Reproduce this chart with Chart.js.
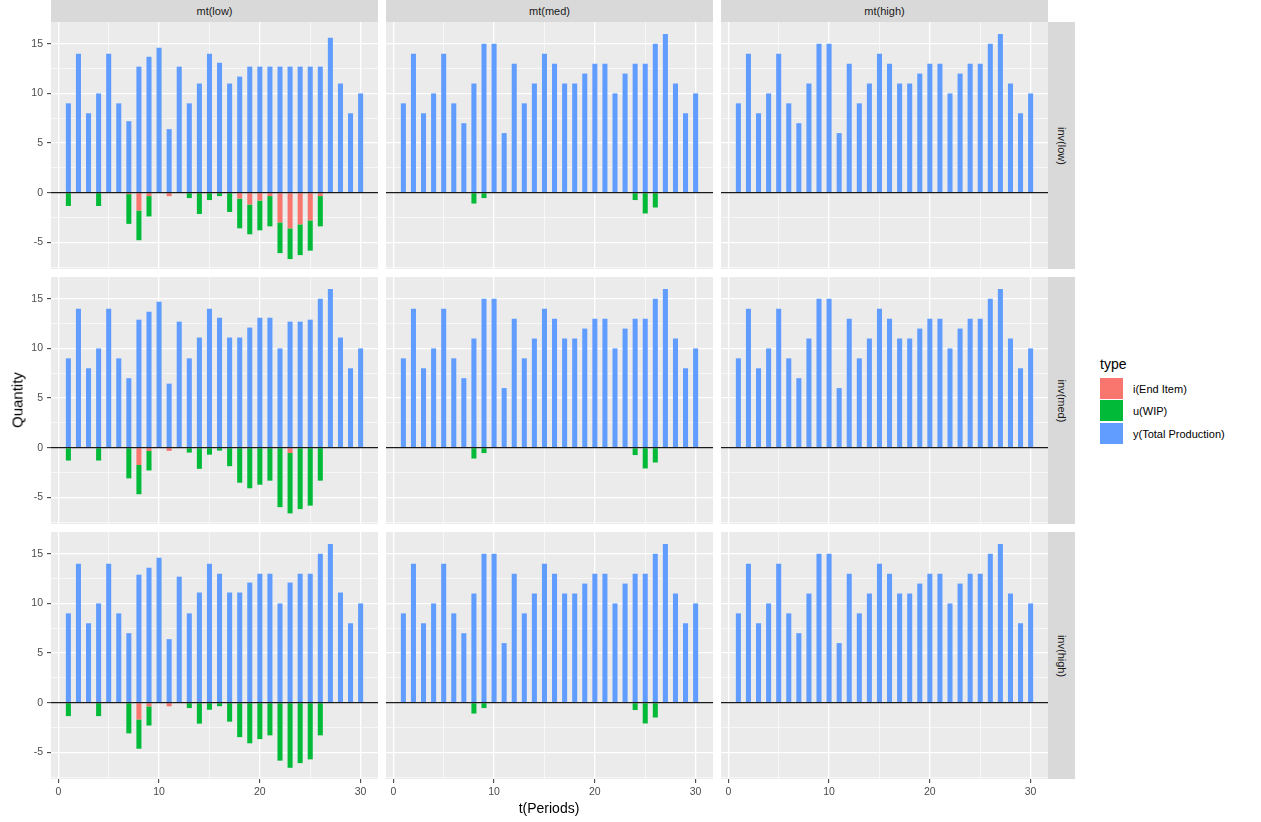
<!DOCTYPE html>
<html>
<head>
<meta charset="utf-8">
<script src="https://cdn.jsdelivr.net/npm/chart.js@4.4.1/dist/chart.umd.min.js"></script>
<style>
body { margin: 0; background: #fff; font-family: 'Liberation Sans', Arial, sans-serif; }
#wrap { position: relative; width: 1261px; height: 822px; overflow: hidden; }
canvas { position: absolute; }
.strip-top { position: absolute; top: 0; height: 22px; line-height: 22px; background: #D9D9D9; color: #1A1A1A; font-size: 11px; text-align: center; }
.strip-right { position: absolute; left: 1048px; width: 27px; background: #D9D9D9; color: #1A1A1A; font-size: 11px; }
.strip-right span { position: absolute; left: 50%; top: 50%; transform: translate(-50%, -50%) rotate(90deg); white-space: nowrap; }
.ytitle { position: absolute; left: 17px; top: 400px; transform: translate(-50%, -50%) rotate(-90deg); font-size: 15px; color: #000; white-space: nowrap; }
.xtitle { position: absolute; left: 549px; top: 808px; transform: translate(-50%, -50%); font-size: 14px; color: #000; white-space: nowrap; }
.legend-title { position: absolute; left: 1100px; top: 356px; font-size: 14px; color: #000; }
.key { position: absolute; left: 1100px; width: 23px; height: 21px; }
.key-label { position: absolute; left: 1133px; font-size: 11px; color: #000; white-space: nowrap; transform: translateY(-50%); }
</style>
</head>
<body>
<div id="wrap"></div>
<script>
// periods on the x axis
const periods = [1, 2, 3, 4, 5, 6, 7, 8, 9, 10, 11, 12, 13, 14, 15, 16, 17, 18, 19, 20, 21, 22, 23, 24, 25, 26, 27, 28, 29, 30];

// inv(low) / mt(low)
const prodLowLow = [9, 14, 8, 10, 14, 9, 7.2, 12.7, 13.7, 14.6, 6.4, 12.7, 9, 11, 14, 13.1, 11, 11.7, 12.7, 12.7, 12.7, 12.7, 12.7, 12.7, 12.7, 12.7, 15.6, 11, 8, 10];
const endLowLow = [0, 0, 0, 0, 0, 0, -0.15, -1.8, -0.35, 0, -0.35, 0, 0, 0, 0, 0, 0, -0.6, -1.2, -0.8, -0.35, -3.0, -3.6, -3.2, -2.8, -0.35, 0, 0, 0, 0];
const wipLowLow = [-1.35, 0, 0, -1.35, 0, 0, -3.0, -3.0, -2.05, 0, 0, 0, -0.55, -2.15, -0.75, -0.35, -1.95, -3.0, -3.0, -3.0, -3.05, -3.1, -3.1, -3.1, -3.05, -3.05, 0, 0, 0, 0];

// inv(med) / mt(low)
const prodMedLow = [9, 14, 8, 10, 14, 9, 7, 12.9, 13.7, 14.7, 6.45, 12.7, 9, 11.1, 14, 13.1, 11.1, 11.1, 12.1, 13.1, 13.1, 10, 12.7, 12.7, 12.9, 15, 16, 11.1, 8, 10];
const endMedLow = [0, 0, 0, 0, 0, 0, 0, -1.75, -0.33, 0, -0.33, 0, 0, 0, 0, 0, 0, 0, 0, 0, 0, 0, -0.54, -0.07, 0, 0, 0, 0, 0, 0];
const wipMedLow = [-1.3, 0, 0, -1.3, 0, 0, -3.1, -2.95, -1.97, 0, 0, 0, -0.5, -2.14, -0.71, -0.3, -1.87, -3.54, -4.1, -3.74, -3.33, -6.0, -6.09, -6.13, -5.85, -3.33, 0, 0, 0, 0];

// inv(high) / mt(low)
const prodHighLow = [9, 14, 8, 10, 14, 9, 7, 12.9, 13.6, 14.6, 6.4, 12.7, 9, 11.1, 14, 13, 11.1, 11.1, 12.1, 13, 13, 10, 12.1, 13, 13, 15, 16, 11.1, 8, 10];
const endHighLow = [0, 0, 0, 0, 0, 0, 0, -1.7, -0.38, 0, -0.37, 0, 0, 0, 0, 0, 0, 0, 0, 0, 0, 0, 0, 0, 0, 0, 0, 0, 0, 0];
const wipHighLow = [-1.36, 0, 0, -1.36, 0, 0, -3.1, -2.95, -1.93, 0, 0, 0, -0.55, -2.12, -0.72, -0.36, -1.92, -3.48, -4.1, -3.68, -3.3, -5.85, -6.57, -6.1, -5.72, -3.3, 0, 0, 0, 0];

// mt(med) and mt(high), same for every inv level
const prodBase = [9, 14, 8, 10, 14, 9, 7, 11, 15, 15, 6, 13, 9, 11, 14, 13, 11, 11, 12, 13, 13, 10, 12, 13, 13, 15, 16, 11, 8, 10];
const wipMedMt = [0, 0, 0, 0, 0, 0, 0, -1.1, -0.55, 0, 0, 0, 0, 0, 0, 0, 0, 0, 0, 0, 0, 0, 0, -0.75, -2.1, -1.5, 0, 0, 0, 0];

const colLabels = ['mt(low)', 'mt(med)', 'mt(high)'];
const rowLabels = ['inv(low)', 'inv(med)', 'inv(high)'];
const seriesNames = ['i(End Item)', 'u(WIP)', 'y(Total Production)'];
const seriesColors = ['#F8766D', '#00BA38', '#619CFF'];

const xTicks = [0, 10, 20, 30];
const xMinor = [5, 15, 25];
const yTicks = [-5, 0, 5, 10, 15];
const yMinor = [-7.5, -2.5, 2.5, 7.5, 12.5];

const panels = [
    { row: 0, col: 0, series: [endLowLow, wipLowLow, prodLowLow] },
    { row: 0, col: 1, series: [[], wipMedMt, prodBase] },
    { row: 0, col: 2, series: [[], [], prodBase] },
    { row: 1, col: 0, series: [endMedLow, wipMedLow, prodMedLow] },
    { row: 1, col: 1, series: [[], wipMedMt, prodBase] },
    { row: 1, col: 2, series: [[], [], prodBase] },
    { row: 2, col: 0, series: [endHighLow, wipHighLow, prodHighLow] },
    { row: 2, col: 1, series: [[], wipMedMt, prodBase] },
    { row: 2, col: 2, series: [[], [], prodBase] }
];

// layout
const colLeft = [51, 386, 721];
const rowTop = [22, 277, 532];
const panelW = 327;
const panelH = 247;
const yAxisW = 51;
const xAxisH = 22;

const wrap = document.getElementById('wrap');

// panel background + zero line
const panelPlugin = {
    id: 'panelBg',
    beforeDraw(chart) {
        const a = chart.chartArea;
        const ctx = chart.ctx;
        ctx.save();
        ctx.fillStyle = '#EBEBEB';
        ctx.fillRect(a.left, a.top, a.right - a.left, a.bottom - a.top);
        ctx.restore();
    },
    afterDatasetsDraw(chart) {
        const a = chart.chartArea;
        const y0 = chart.scales.y.getPixelForValue(0);
        const ctx = chart.ctx;
        ctx.save();
        ctx.strokeStyle = '#1a1a1a';
        ctx.lineWidth = 1.2;
        ctx.beginPath();
        ctx.moveTo(a.left, y0);
        ctx.lineTo(a.right, y0);
        ctx.stroke();
        ctx.restore();
    }
};

function gridWidth(majors) {
    return c => (c.tick && majors.includes(c.tick.value)) ? 1.3 : 0.6;
}
function tickColor(majors) {
    return c => (c.tick && majors.includes(c.tick.value)) ? '#333333' : 'rgba(0,0,0,0)';
}
function noPad(axis) {
    axis.paddingTop = 0;
    axis.paddingBottom = 0;
    axis.paddingLeft = 0;
    axis.paddingRight = 0;
}

panels.forEach(p => {
    const showY = p.col === 0;
    const showX = p.row === 2;
    const w = panelW + (showY ? yAxisW : 0);
    const h = panelH + (showX ? xAxisH : 0);
    const canvas = document.createElement('canvas');
    canvas.width = w;
    canvas.height = h;
    canvas.style.left = (colLeft[p.col] - (showY ? yAxisW : 0)) + 'px';
    canvas.style.top = rowTop[p.row] + 'px';
    wrap.appendChild(canvas);

    const datasets = p.series.map((vals, k) => ({
        label: seriesNames[k],
        data: vals.map((v, j) => ({ x: periods[j], y: v })),
        backgroundColor: seriesColors[k],
        borderWidth: 0,
        categoryPercentage: 1,
        barPercentage: 0.5
    }));

    new Chart(canvas, {
        type: 'bar',
        data: { datasets: datasets },
        plugins: [panelPlugin],
        options: {
            responsive: false,
            animation: false,
            layout: { padding: 0 },
            plugins: { legend: { display: false }, tooltip: { enabled: false } },
            scales: {
                x: {
                    type: 'linear',
                    stacked: true,
                    offset: false,
                    min: -0.725,
                    max: 31.725,
                    afterBuildTicks: axis => {
                        axis.ticks = xTicks.concat(xMinor).map(v => ({ value: v }));
                    },
                    afterFit: axis => { axis.height = showX ? xAxisH : 0; noPad(axis); },
                    border: { display: false },
                    grid: {
                        offset: false,
                        color: '#FFFFFF',
                        lineWidth: gridWidth(xTicks),
                        drawTicks: showX,
                        tickLength: 4,
                        tickColor: tickColor(xTicks),
                        tickWidth: 1
                    },
                    ticks: {
                        display: showX,
                        autoSkip: false,
                        maxRotation: 0,
                        padding: 3,
                        color: '#4D4D4D',
                        font: { family: "'Liberation Sans', Arial, sans-serif", size: 10.5 },
                        callback: v => xTicks.includes(v) ? String(v) : ''
                    }
                },
                y: {
                    type: 'linear',
                    stacked: true,
                    min: -7.7,
                    max: 17.2,
                    afterBuildTicks: axis => {
                        axis.ticks = yTicks.concat(yMinor).sort((a, b) => a - b).map(v => ({ value: v }));
                    },
                    afterFit: axis => { axis.width = showY ? yAxisW : 0; noPad(axis); },
                    border: { display: false },
                    grid: {
                        color: '#FFFFFF',
                        lineWidth: gridWidth(yTicks),
                        drawTicks: showY,
                        tickLength: 4,
                        tickColor: tickColor(yTicks),
                        tickWidth: 1
                    },
                    ticks: {
                        display: showY,
                        autoSkip: false,
                        padding: 4,
                        color: '#4D4D4D',
                        font: { family: "'Liberation Sans', Arial, sans-serif", size: 10.5 },
                        callback: v => yTicks.includes(v) ? String(v) : ''
                    }
                }
            }
        }
    });
});

// facet strips
colLabels.forEach((lab, c) => {
    const d = document.createElement('div');
    d.className = 'strip-top';
    d.style.left = colLeft[c] + 'px';
    d.style.width = panelW + 'px';
    d.textContent = lab;
    wrap.appendChild(d);
});
rowLabels.forEach((lab, r) => {
    const d = document.createElement('div');
    d.className = 'strip-right';
    d.style.top = rowTop[r] + 'px';
    d.style.height = panelH + 'px';
    const s = document.createElement('span');
    s.textContent = lab;
    d.appendChild(s);
    wrap.appendChild(d);
});

// axis titles
const yt = document.createElement('div');
yt.className = 'ytitle';
yt.textContent = 'Quantity';
wrap.appendChild(yt);
const xt = document.createElement('div');
xt.className = 'xtitle';
xt.textContent = 't(Periods)';
wrap.appendChild(xt);

// legend
const lt = document.createElement('div');
lt.className = 'legend-title';
lt.textContent = 'type';
wrap.appendChild(lt);
const keyTops = [378, 400, 423];
seriesNames.forEach((name, k) => {
    const key = document.createElement('div');
    key.className = 'key';
    key.style.top = keyTops[k] + 'px';
    key.style.background = seriesColors[k];
    wrap.appendChild(key);
    const lab = document.createElement('div');
    lab.className = 'key-label';
    lab.style.top = (keyTops[k] + 11) + 'px';
    lab.textContent = name;
    wrap.appendChild(lab);
});
</script>
</body>
</html>
